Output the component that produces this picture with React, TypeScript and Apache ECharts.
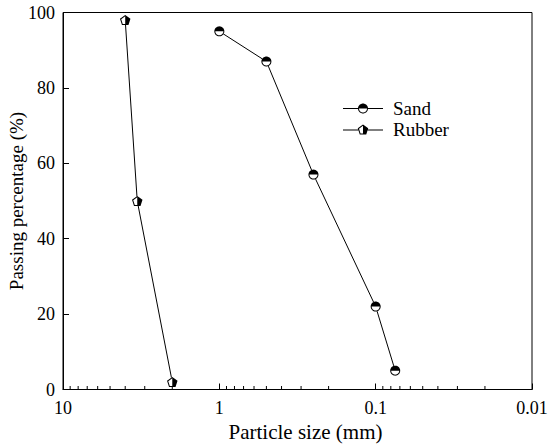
import React, { useEffect, useRef } from "react";
import * as echarts from "echarts";

// ---- data ----
const sandSize = [1, 0.5, 0.25, 0.1, 0.075];
const sandPassing = [95, 87, 57, 22, 5];
const rubberSize = [4, 3.35, 2];
const rubberPassing = [98, 50, 2];
const minorTickValues = [
  9, 8, 7, 6, 5, 4, 3, 2,
  0.9, 0.8, 0.7, 0.6, 0.5, 0.4, 0.3, 0.2,
  0.09, 0.08, 0.07, 0.06, 0.05, 0.04, 0.03, 0.02,
];
const xTitle = "Particle size (mm)";
const yTitle = "Passing percentage (%)";

// ---- symbol geometry helpers ----
const f = (n: number) => n.toFixed(2);
const rad = (d: number) => (d * Math.PI) / 180;

function arcPts(cx: number, cy: number, r: number, a0: number, a1: number, steps: number) {
  const pts: string[] = [];
  for (let i = 0; i <= steps; i++) {
    const a = rad(a0 + ((a1 - a0) * i) / steps);
    pts.push(f(cx + r * Math.cos(a)) + " " + f(cy + r * Math.sin(a)));
  }
  return pts;
}
function circleFull(cx: number, cy: number, R: number) {
  const p = arcPts(cx, cy, R, 0, 360, 48);
  return "M" + p[0] + " L" + p.slice(1).join(" L") + " Z";
}
function circleCarved(cx: number, cy: number, R: number, ri: number) {
  const outer = circleFull(cx, cy, R);
  const h = arcPts(cx, cy, ri, 180, 0, 24);
  return outer + " M" + h[0] + " L" + h.slice(1).join(" L") + " Z";
}
function pentPts(cx: number, cy: number, r: number, angles: number[]) {
  return angles.map((a) => f(cx + r * Math.cos(rad(a))) + " " + f(cy + r * Math.sin(rad(a))));
}
function pentFull(cx: number, cy: number, R: number) {
  const p = pentPts(cx, cy, R, [-90, -18, 54, 126, 198]);
  return "M" + p[0] + " L" + p.slice(1).join(" L") + " Z";
}
function pentCarved(cx: number, cy: number, R: number, ri: number) {
  const outer = pentFull(cx, cy, R);
  const h = pentPts(cx, cy, ri, [-90, 198, 126]);
  return (
    outer +
    " M" + h[0] + " L" + h[1] + " L" + h[2] +
    " L" + f(cx) + " " + f(cy + ri * Math.cos(rad(36))) + " Z"
  );
}
function seg(x0: number, x1: number, y: number) {
  return `M${f(x0)} ${f(y - 0.5)} L${f(x1)} ${f(y - 0.5)} L${f(x1)} ${f(y + 0.5)} L${f(x0)} ${f(y + 0.5)} Z`;
}

const sandWhite = "path://" + circleFull(0, 0, 5);
const sandBlack = "path://" + circleCarved(0, 0, 5, 4);
const rubWhite = "path://" + pentFull(0, 0, 5.5);
const rubBlack = "path://" + pentCarved(0, 0, 5.5, 4.2);
const sandLegend = "path://" + seg(0, 15, 5) + " " + circleCarved(20, 5, 5, 4) + " " + seg(25, 40, 5);
const rubLegend =
  "path://" + seg(0, 15.3, 5.5) + " " + pentCarved(20, 5.5, 5.5, 4.2) + " " + seg(24.7, 40, 5.5);

const FONT = '"Liberation Serif", "Times New Roman", serif';

export default function App() {
  const ref = useRef<HTMLDivElement>(null);
  useEffect(() => {
    if (!ref.current) return;
    const chart = echarts.init(ref.current, null, { renderer: "svg" });
    const sandData = sandSize.map((x, i) => [x, sandPassing[i]]);
    const rubData = rubberSize.map((x, i) => [x, rubberPassing[i]]);
    const option: any = {
      animation: false,
      backgroundColor: "#fff",
      textStyle: { fontFamily: FONT },
      grid: {
        left: 63,
        right: 18,
        top: 12.5,
        bottom: 56.5,
        containLabel: false,
        outerBoundsMode: "none",
        show: true,
        borderColor: "#000",
        borderWidth: 1,
        backgroundColor: "transparent",
      },
      legend: {
        orient: "vertical",
        left: 343,
        top: 99,
        padding: 0,
        itemWidth: 40,
        itemHeight: 10,
        itemGap: 2,
        selectedMode: false,
        itemStyle: { color: "#000", borderWidth: 0 },
        textStyle: { fontFamily: FONT, fontSize: 19, color: "#000", padding: [0, 0, 0, 5] },
        data: [
          { name: "Sand", icon: sandLegend },
          { name: "Rubber", icon: rubLegend },
        ],
      },
      xAxis: {
        type: "log",
        logBase: 10,
        min: 0.01,
        max: 10,
        inverse: true,
        name: xTitle,
        nameLocation: "middle",
        nameGap: 32,
        nameMoveOverlap: false,
        nameTextStyle: { fontFamily: FONT, fontSize: 21, color: "#000", padding: [0, 0, 0, 16] },
        axisLine: { lineStyle: { color: "#000", width: 1 } },
        axisTick: { inside: true, length: 6, lineStyle: { color: "#000" } },
        splitLine: { show: false },
        axisLabel: {
          fontFamily: FONT,
          fontSize: 18,
          color: "#000",
          margin: 9,
          formatter: (v: number) => (v >= 1 ? String(Math.round(v)) : String(+v.toPrecision(1))),
        },
      },
      yAxis: {
        type: "value",
        min: 0,
        max: 100,
        interval: 20,
        name: yTitle,
        nameLocation: "middle",
        nameGap: 37,
        nameMoveOverlap: false,
        nameTextStyle: { fontFamily: FONT, fontSize: 19, color: "#000" },
        axisLine: { show: true, lineStyle: { color: "#000", width: 1 } },
        axisTick: { show: true, inside: true, length: 6, lineStyle: { color: "#000" } },
        splitLine: { show: false },
        axisLabel: { fontFamily: FONT, fontSize: 18, color: "#000", margin: 8 },
      },
      series: [
        { name: "Sand", type: "line", data: sandData, symbol: "none", color: "#000", lineStyle: { color: "#000", width: 1 }, z: 2 },
        { name: "Rubber", type: "line", data: rubData, symbol: "none", color: "#000", lineStyle: { color: "#000", width: 1 }, z: 2 },
        { name: "sand-bg", type: "scatter", data: sandData, symbol: sandWhite, symbolSize: 10, itemStyle: { color: "#fff", opacity: 1 }, silent: true, z: 3 },
        { name: "rubber-bg", type: "scatter", data: rubData, symbol: rubWhite, symbolSize: [10.5, 10], itemStyle: { color: "#fff", opacity: 1 }, silent: true, z: 3 },
        { name: "sand-mk", type: "scatter", data: sandData, symbol: sandBlack, symbolSize: 10, itemStyle: { color: "#000", opacity: 1 }, silent: true, z: 4 },
        { name: "rubber-mk", type: "scatter", data: rubData, symbol: rubBlack, symbolSize: [10.5, 10], itemStyle: { color: "#000", opacity: 1 }, silent: true, z: 4 },
        {
          name: "minor-ticks",
          type: "custom",
          silent: true,
          z: 5,
          data: minorTickValues.map((v) => [v, 0]),
          renderItem: (params: any, api: any) => {
            const p = api.coord([api.value(0), api.value(1)]);
            return {
              type: "line",
              shape: { x1: p[0], y1: p[1], x2: p[0], y2: p[1] - 3.5 },
              style: { stroke: "#000", lineWidth: 1 },
            };
          },
        },
      ],
    };
    chart.setOption(option);
    return () => chart.dispose();
  }, []);
  return (
    <div
      ref={ref}
      style={{ position: "fixed", left: 0, top: 0, width: 550, height: 446, background: "#fff" }}
    />
  );
}
